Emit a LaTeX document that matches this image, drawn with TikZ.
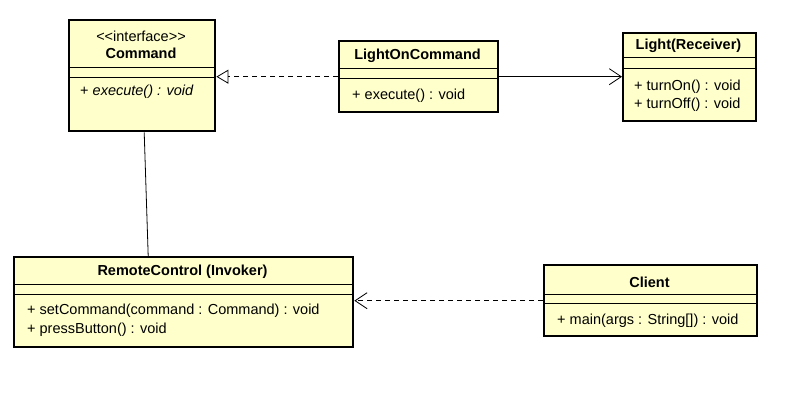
\documentclass[tikz,border=0pt]{standalone}
\usepackage{fontspec}
\setmainfont{Liberation Sans}
\usetikzlibrary{arrows.meta}
\definecolor{umlfill}{HTML}{FFFFCC}
\tikzstyle{classbox} = [draw, line width=2.4pt, fill=umlfill, inner sep=0pt, anchor=north west]
\tikzstyle{title} = [font=\fontsize{14.5}{16}\selectfont\bfseries, inner sep=0pt]
\tikzstyle{member} = [font=\fontsize{14.5}{19}\selectfont, inner sep=0pt, anchor=west]
\tikzstyle{sep} = [line width=0.9pt]
\tikzstyle{dep} = [line width=0.8pt, dash pattern=on 5pt off 4pt]

\begin{document}
\begin{tikzpicture}[x=1pt,y=-1pt]
  \useasboundingbox (0,0) rectangle (793,403);
  % classes
  \node[classbox, minimum width=146pt, minimum height=111pt] (command) at (68,19) {};
  \node[classbox, minimum width=159pt, minimum height=71pt] (loc) at (338,40) {};
  \node[classbox, minimum width=133pt, minimum height=88pt] (light) at (622,32) {};
  \node[classbox, minimum width=339pt, minimum height=90pt] (remote) at (13,256) {};
  \node[classbox, minimum width=213pt, minimum height=71pt] (client) at (543,264) {};
  % compartments
  \draw[sep] (command.west |- 0,67) -- (command.east |- 0,67);
  \draw[sep] (command.west |- 0,77) -- (command.east |- 0,77);
  \draw[sep] (loc.west |- 0,68) -- (loc.east |- 0,68);
  \draw[sep] (loc.west |- 0,78) -- (loc.east |- 0,78);
  \draw[sep] (light.west |- 0,57) -- (light.east |- 0,57);
  \draw[sep] (light.west |- 0,68) -- (light.east |- 0,68);
  \draw[sep] (remote.west |- 0,284) -- (remote.east |- 0,284);
  \draw[sep] (remote.west |- 0,294) -- (remote.east |- 0,294);
  \draw[sep] (client.west |- 0,294) -- (client.east |- 0,294);
  \draw[sep] (client.west |- 0,303) -- (client.east |- 0,303);
  % texts
  \node[member, anchor=center] (cmdstereo) at (141,36) {{<}{<}interface{>}{>}};
  \node[title] (cmdname) at (141,53) {Command};
  \node[member] (cmdop) at (80,92) {+ \textit{execute() : void}};
  \node[title] (locname) at (417.5,56) {LightOnCommand};
  \node[member] (locop) at (352,96) {+ execute() : void};
  \node[title] (lightname) at (688.5,46) {Light(Receiver)};
  \node[member] (lighton) at (634,87) {+ turnOn() : void};
  \node[member] (lightoff) at (634,105) {+ turnOff() : void};
  \node[title] (remotename) at (182.5,272) {RemoteControl (Invoker)};
  \node[member] (remoteset) at (27,311) {+ setCommand(command : Command) : void};
  \node[member] (remotepress) at (27,330) {+ pressButton() : void};
  \node[title] (clientname) at (649.5,282) {Client};
  \node[member] (clientmain) at (557,321) {+ main(args : String[]) : void};
  % relations
  \draw[dep, -{Triangle[open, length=12pt, width=14pt, line width=0.8pt]}] (loc.west) -- (loc.west -| command.east);
  \draw[line width=0.8pt, -{Straight Barb[length=12pt, width=16pt, line width=0.8pt]}] (loc.east) -- (loc.east -| light.west);
  \draw[line width=0.8pt] ([xshift=2pt]command.south) -- ([xshift=-35.5pt]remote.north);
  \draw[dep, -{Straight Barb[length=12pt, width=16pt, line width=0.8pt]}] (client.west) -- (client.west -| remote.east);
\end{tikzpicture}
\end{document}
